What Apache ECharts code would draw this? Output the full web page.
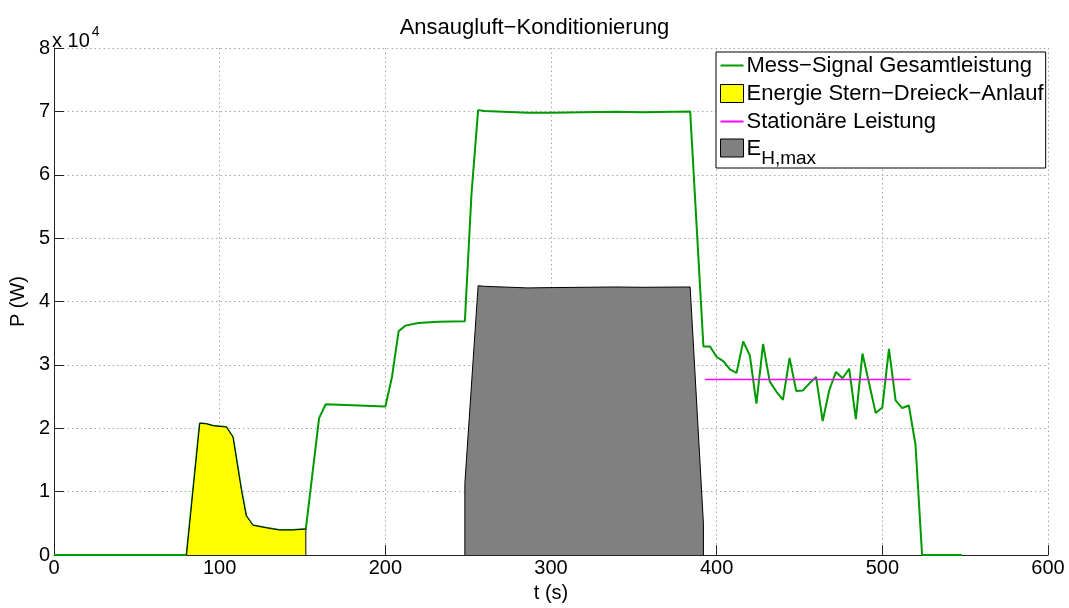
<!DOCTYPE html>
<html>
<head>
<meta charset="utf-8">
<script src="https://cdn.jsdelivr.net/npm/echarts@6/dist/echarts.min.js"></script>
<style>
  html, body { margin: 0; padding: 0; background: #fff; }
  #chart { width: 1069px; height: 608px; }
</style>
</head>
<body>
<div id="chart"></div>
<script>
// Mess-Signal Gesamtleistung (t in s, P in W)
const tMess = [0, 80, 88, 92, 96, 104, 108, 113, 116, 120, 128, 136, 144, 152, 160, 164, 180, 200, 204, 208, 212, 220, 232, 248, 252, 256, 260, 286, 300, 339, 355, 384, 392, 396, 400, 404, 408, 412, 416, 420, 424, 428, 432, 436, 440, 444, 448, 452, 456, 460, 464, 468, 472, 476, 480, 484, 488, 492, 496, 500, 504, 508, 512, 516, 520, 524, 548];
const pMess = [0, 0, 20800, 20700, 20400, 20200, 18600, 10400, 6200, 4700, 4300, 3950, 3950, 4100, 21600, 23800, 23650, 23450, 28100, 35300, 36200, 36600, 36800, 36900, 57000, 70200, 70050, 69800, 69800, 69950, 69850, 70000, 32900, 32900, 31250, 30600, 29300, 28750, 33700, 31500, 23900, 33300, 27400, 25800, 24500, 31100, 25900, 25950, 27100, 28100, 21150, 26050, 28900, 27900, 29400, 21450, 31800, 27100, 22400, 23300, 32550, 24400, 23200, 23600, 17450, 0, 0];

// Energie Stern-Dreieck-Anlauf
const tAnlauf = [80, 88, 92, 96, 104, 108, 113, 116, 120, 128, 136, 144, 152, 152];
const pAnlauf = [0, 20800, 20700, 20400, 20200, 18600, 10400, 6200, 4700, 4300, 3950, 3950, 4100, 0];

// Stationäre Leistung
const tStat = [393, 517];
const pStat = [27700, 27700];

// E_H,max
const tEH = [248, 248, 256, 260, 286, 300, 339, 355, 384, 392, 392];
const pEH = [0, 11300, 42500, 42400, 42150, 42200, 42300, 42250, 42300, 5000, 0];

const xTicks = [0, 100, 200, 300, 400, 500, 600];
const yTicks = [0, 1, 2, 3, 4, 5, 6, 7, 8];

const zip = (xs, ys) => xs.map((x, i) => [x, ys[i]]);

const font = 'Liberation Sans, Arial, Helvetica, sans-serif';
const gridLine = { show: true, lineStyle: { color: '#a8a8a8', type: [1.5, 3], width: 1 } };
// legend icon for the line series: a thin bar in the middle of the icon box
const lineIcon = 'path://M0,0M0,8L23,8L23,10L0,10ZM23,18';

const chart = echarts.init(document.getElementById('chart'));
chart.setOption({
  animation: false,
  textStyle: { fontFamily: font },
  title: {
    text: 'Ansaugluft\u2212Konditionierung',
    left: 'center',
    top: 12,
    textStyle: { fontFamily: font, fontSize: 22, fontWeight: 'normal', color: '#000' }
  },
  grid: { left: 51, right: 21, top: 48, bottom: 49 },
  xAxis: {
    type: 'value',
    min: xTicks[0],
    max: xTicks[xTicks.length - 1],
    interval: 100,
    name: 't (s)',
    nameLocation: 'middle',
    nameGap: 27,
    nameTextStyle: { fontSize: 20, color: '#000' },
    axisLine: { lineStyle: { color: '#222', width: 1 } },
    axisTick: { inside: true, length: 10, lineStyle: { color: '#222' } },
    axisLabel: { fontSize: 20, color: '#000', margin: 3 },
    splitLine: gridLine
  },
  yAxis: {
    type: 'value',
    min: yTicks[0] * 10000,
    max: yTicks[yTicks.length - 1] * 10000,
    interval: 10000,
    name: 'P (W)',
    nameLocation: 'middle',
    nameGap: 18,
    nameTextStyle: { fontSize: 20, color: '#000' },
    axisLine: { show: true, lineStyle: { color: '#222', width: 1 } },
    axisTick: { show: true, inside: true, length: 10, lineStyle: { color: '#222' } },
    axisLabel: { fontSize: 20, color: '#000', margin: 4, formatter: v => String(v / 10000) },
    splitLine: gridLine
  },
  legend: {
    orient: 'vertical',
    left: 716,
    top: 52,
    padding: [2, 2, 0, 4],
    itemGap: 5,
    itemWidth: 23,
    itemHeight: 18,
    backgroundColor: '#fff',
    borderColor: '#000',
    borderWidth: 1,
    textStyle: {
      fontSize: 22,
      lineHeight: 23,
      color: '#000',
      padding: [0, 0, 0, -2],
      rich: {
        e: { fontSize: 22, color: '#000', verticalAlign: 'top', lineHeight: 20 },
        s: { fontSize: 19, color: '#000', verticalAlign: 'top', lineHeight: 8, padding: [11, 0, 0, 0] }
      }
    },
    formatter: name => (name === 'EH' ? '{e|E}{s|H,max}' : name),
    data: [
      { name: 'Mess\u2212Signal Gesamtleistung', icon: lineIcon, itemStyle: { color: '#009900' } },
      { name: 'Energie Stern\u2212Dreieck\u2212Anlauf', icon: 'rect', itemStyle: { color: '#ffff00', borderColor: '#000', borderWidth: 1 } },
      { name: 'Stationäre Leistung', icon: lineIcon, itemStyle: { color: '#ff00ff' } },
      { name: 'EH', icon: 'rect', itemStyle: { color: '#808080', borderColor: '#000', borderWidth: 1 } }
    ]
  },
  graphic: [{
    type: 'text',
    left: 52,
    top: 25,
    style: {
      text: '{a|x 10}{b|4}',
      rich: {
        a: { fontFamily: font, fontSize: 20, fill: '#000', verticalAlign: 'bottom', padding: [6, 0, 0, 0] },
        b: { fontFamily: font, fontSize: 14, fill: '#000', verticalAlign: 'top', padding: [0, 0, 0, 2] }
      }
    }
  }],
  series: [
    {
      name: 'Mess\u2212Signal Gesamtleistung',
      type: 'line',
      data: zip(tMess, pMess),
      symbol: 'none',
      z: 3,
      lineStyle: { color: '#009900', width: 2 },
      itemStyle: { color: '#009900' }
    },
    {
      name: 'Energie Stern\u2212Dreieck\u2212Anlauf',
      type: 'line',
      data: zip(tAnlauf, pAnlauf),
      symbol: 'none',
      z: 4,
      lineStyle: { color: '#000', width: 1 },
      areaStyle: { color: '#ffff00', opacity: 1 },
      itemStyle: { color: '#ffff00' }
    },
    {
      name: 'Stationäre Leistung',
      type: 'line',
      data: zip(tStat, pStat),
      symbol: 'none',
      z: 5,
      lineStyle: { color: '#ff00ff', width: 1.5 },
      itemStyle: { color: '#ff00ff' }
    },
    {
      name: 'EH',
      type: 'line',
      data: zip(tEH, pEH),
      symbol: 'none',
      z: 4,
      lineStyle: { color: '#000', width: 1 },
      areaStyle: { color: '#808080', opacity: 1 },
      itemStyle: { color: '#808080' }
    }
  ]
});
</script>
</body>
</html>
